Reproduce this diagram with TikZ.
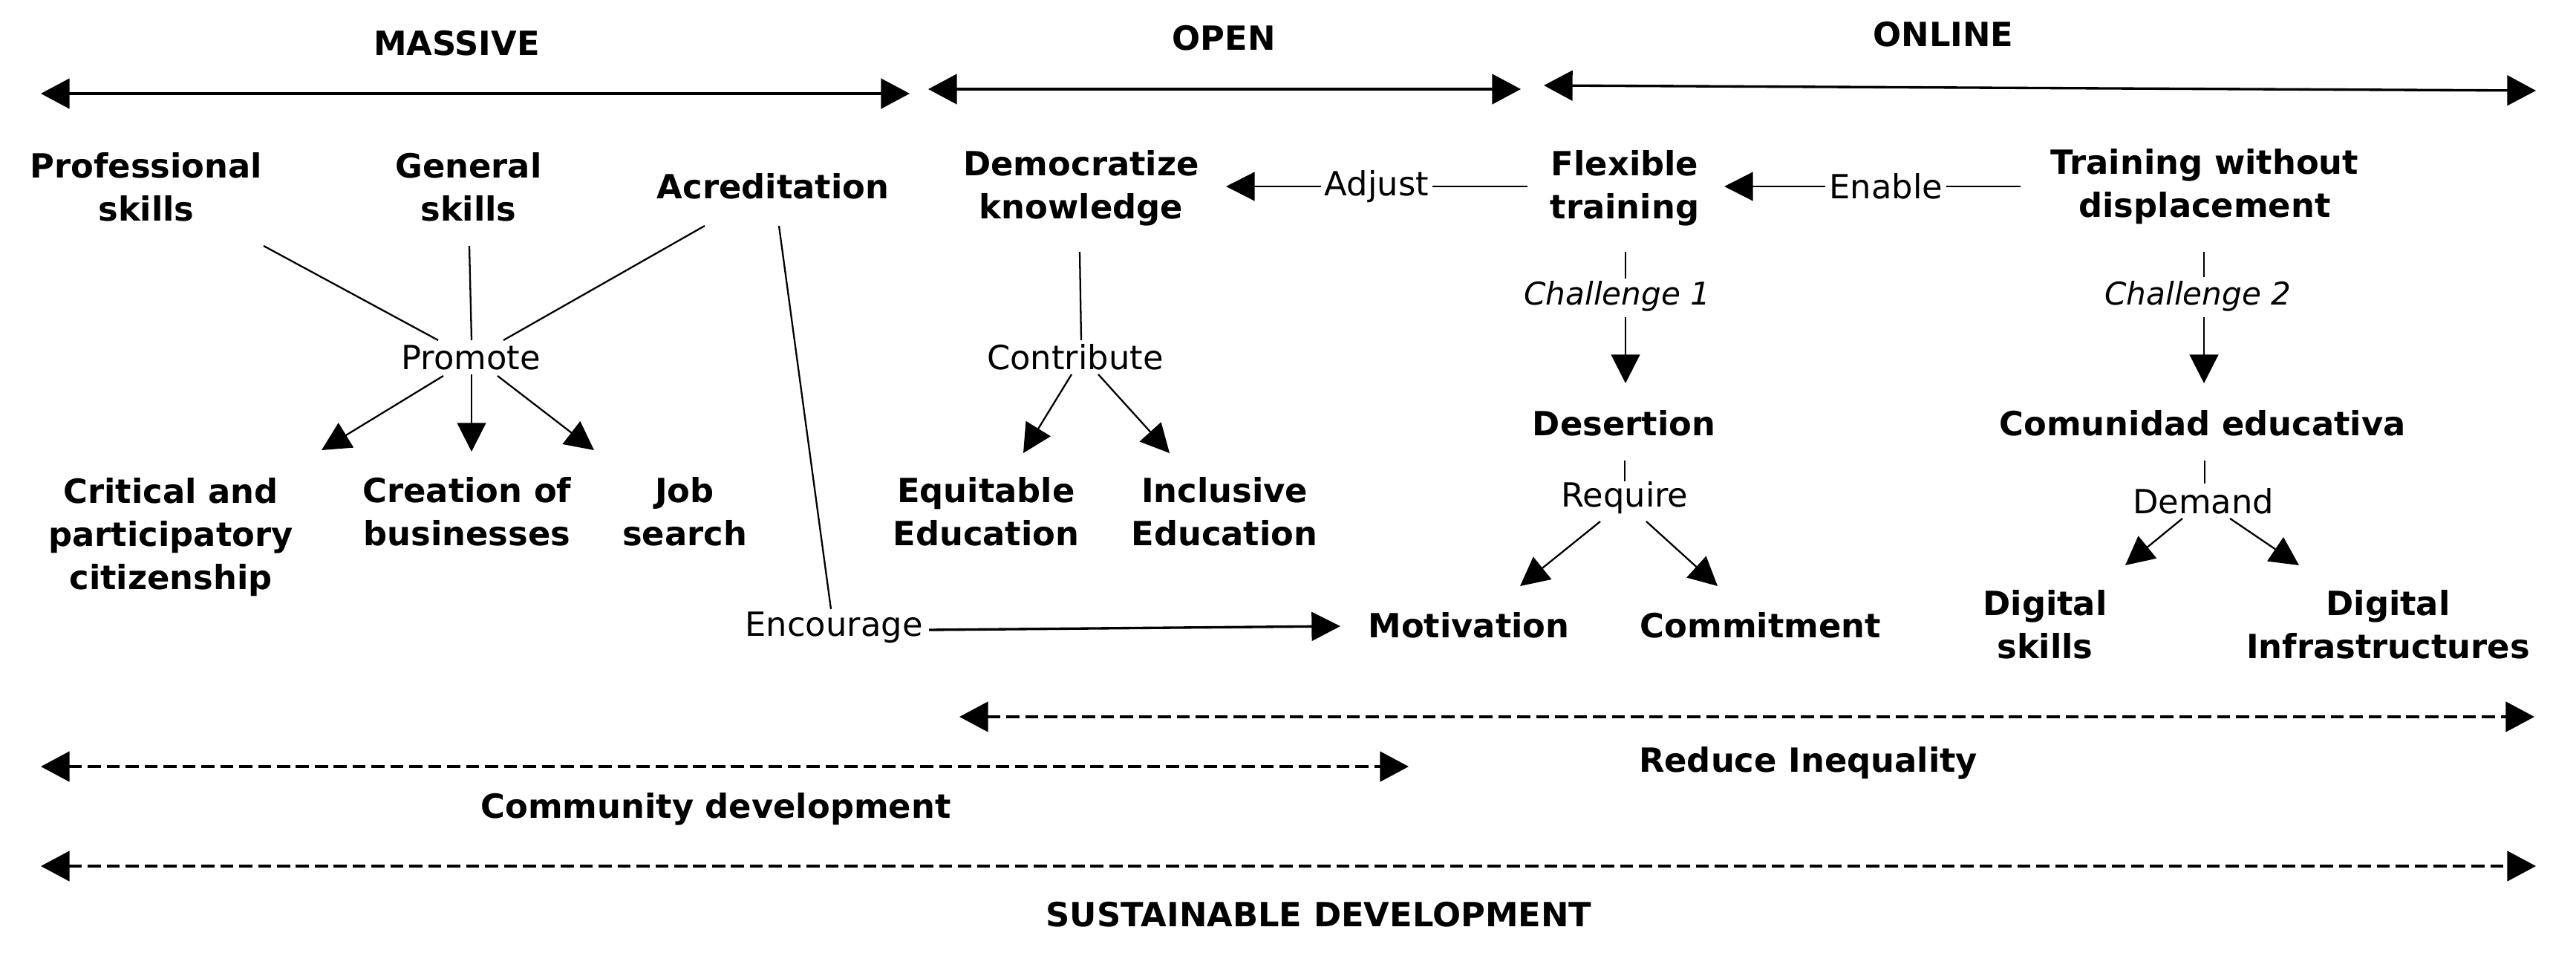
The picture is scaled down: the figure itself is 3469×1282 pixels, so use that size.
\documentclass[tikz,border=0pt]{standalone}
\usepackage{fontspec}
\setmainfont{DejaVu Sans}
\usetikzlibrary{arrows.meta}
\begin{document}
\begin{tikzpicture}[x=0.02cm,y=-0.02cm,
  bnode/.style={font=\fontsize{25.5pt}{32.9pt}\selectfont\bfseries, align=center, inner sep=0pt},
  rlab/.style={font=\fontsize{25.5pt}{32.9pt}\selectfont, inner sep=0pt},
  ilab/.style={font=\fontsize{24pt}{30pt}\selectfont\itshape, inner sep=0pt},
  conn/.style={line width=1.3pt},
  arr/.style={line width=1.3pt, -{Triangle[length=22pt,width=22pt]}},
  span/.style={line width=1.9pt, {Triangle[length=22pt,width=23pt]}-{Triangle[length=22pt,width=23pt]}},
  dspan/.style={line width=2pt, dash pattern=on 10pt off 4.5pt, {Triangle[length=22pt,width=23pt]}-{Triangle[length=22pt,width=23pt]}},
  cut/.style={fill=white, inner sep=3pt}
]
\path[use as bounding box] (0,0) rectangle (3469,1282);

% headings and spans
\node[bnode] (massive) at (615,58) {MASSIVE};
\node[bnode] (open) at (1648,51) {OPEN};
\node[bnode] (online) at (2617,46) {ONLINE};
\coordinate (mL) at (55,126);  \coordinate (mR) at (1225,126);
\coordinate (oL) at (1250,120); \coordinate (oR) at (2048,120);
\coordinate (nL) at (2079,115); \coordinate (nR) at (3415,122);
\draw[span] (mL) -- (mR);
\draw[span] (oL) -- (oR);
\draw[span] (nL) -- (nR);

% row 2
\node[bnode] (prof) at (197,252) {Professional\\skills};
\node[bnode] (gen) at (631,252) {General\\skills};
\node[bnode] (acred) at (1041,251) {Acreditation};
\node[bnode] (demo) at (1456,253) {Democratize\\knowledge};
\node[bnode] (flex) at (2188,253) {Flexible\\training};
\node[bnode] (twd) at (2969,251) {Training without\\displacement};

% relation labels
\node[rlab] (promote) at (634,481) {Promote};
\node[rlab] (contrib) at (1448,481) {Contribute};
\node[ilab] (chal1) at (2178,399) {Challenge 1};
\node[ilab] (chal2) at (2960,399) {Challenge 2};
\node[rlab] (require) at (2188,670) {Require};
\node[rlab] (demand) at (2967,675) {Demand};
\node[rlab] (encour) at (1123,845) {Encourage};

% row 3
\node[bnode] (crit) at (230,723) {Critical and\\participatory\\citizenship};
\node[bnode] (creat) at (629,689) {Creation of\\businesses};
\node[bnode] (job) at (922,689) {Job\\search};
\node[bnode] (equit) at (1328,689) {Equitable\\Education};
\node[bnode] (incl) at (1649,689) {Inclusive\\Education};
\node[bnode] (desert) at (2187,570) {Desertion};
\node[bnode] (comun) at (2966,570) {Comunidad educativa};
\node[bnode] (motiv) at (1978,842) {Motivation};
\node[bnode] (commit) at (2371,842) {Commitment};
\node[bnode] (digsk) at (2754,841) {Digital\\skills};
\node[bnode] (diginf) at (3216,841) {Digital\\Infrastructures};

% bottom spans
\node[bnode] (reduce) at (2435,1027) {Reduce Inequality};
\node[bnode] (commdev) at (964,1089) {Community development};
\node[bnode] (sust) at (1776,1231) {SUSTAINABLE DEVELOPMENT};
\coordinate (rL) at (1292,965); \coordinate (rR) at (3413,965);
\coordinate (cL) at (55,1032);  \coordinate (cR) at (1897,1032);
\coordinate (sL) at (55,1166);  \coordinate (sR) at (3415,1166);
\draw[dspan] (rL) -- (rR);
\draw[dspan] (cL) -- (cR);
\draw[dspan] (sL) -- (sR);

% connectors
\draw[conn] ([shift={(158,79)}]prof.center) -- ([shift={(-44,-23)}]promote.center);
\draw[conn] ([shift={(1,79)}]gen.center) -- ([shift={(1,-23)}]promote.center);
\draw[conn] ([shift={(-92,53)}]acred.center) -- ([shift={(44,-23)}]promote.center);
\draw[arr] ([shift={(-37,25)}]promote.center) -- ([shift={(203,-117)}]crit.center);
\draw[arr] ([shift={(1,23)}]promote.center) -- ([shift={(6,-81)}]creat.center);
\draw[arr] ([shift={(36,25)}]promote.center) -- ([shift={(-122,-83)}]job.center);
\draw[conn] ([shift={(8,53)}]acred.center) -- ([shift={(-4,-25)}]encour.center);
\draw[arr, line width=1.9pt] ([shift={(128,3)}]encour.center) -- ([shift={(-173,1)}]motiv.center);
\draw[conn] ([shift={(-2,86)}]demo.center) -- ([shift={(8,-23)}]contrib.center);
\draw[arr] ([shift={(-5,23)}]contrib.center) -- ([shift={(50,-79)}]equit.center);
\draw[arr] ([shift={(31,23)}]contrib.center) -- ([shift={(-74,-79)}]incl.center);
\draw[arr] ([shift={(-131,-2)}]flex.center) -- node[rlab, cut] (adjust) {Adjust} ([shift={(195,-2)}]demo.center);
\draw[arr] ([shift={(-248,0)}]twd.center) -- node[pos=0.454, rlab, cut] (enable) {Enable} ([shift={(134,-2)}]flex.center);
\draw[conn] ([shift={(1,86)}]flex.center) -- ([shift={(11,-24)}]chal1.center);
\draw[arr] ([shift={(11,28)}]chal1.center) -- ([shift={(2,-54)}]desert.center);
\draw[conn] ([shift={(-1,88)}]twd.center) -- ([shift={(8,-26)}]chal2.center);
\draw[arr] ([shift={(8,28)}]chal2.center) -- ([shift={(2,-54)}]comun.center);
\draw[conn] ([shift={(1,50)}]desert.center) -- ([shift={(0,-22)}]require.center);
\draw[arr] ([shift={(-33,32)}]require.center) -- ([shift={(69,-53)}]motiv.center);
\draw[arr] ([shift={(29,32)}]require.center) -- ([shift={(-58,-53)}]commit.center);
\draw[conn] ([shift={(3,50)}]comun.center) -- ([shift={(2,-24)}]demand.center);
\draw[arr] ([shift={(-28,23)}]demand.center) -- ([shift={(108,-80)}]digsk.center);
\draw[arr] ([shift={(36,23)}]demand.center) -- ([shift={(-120,-80)}]diginf.center);
\end{tikzpicture}
\end{document}
